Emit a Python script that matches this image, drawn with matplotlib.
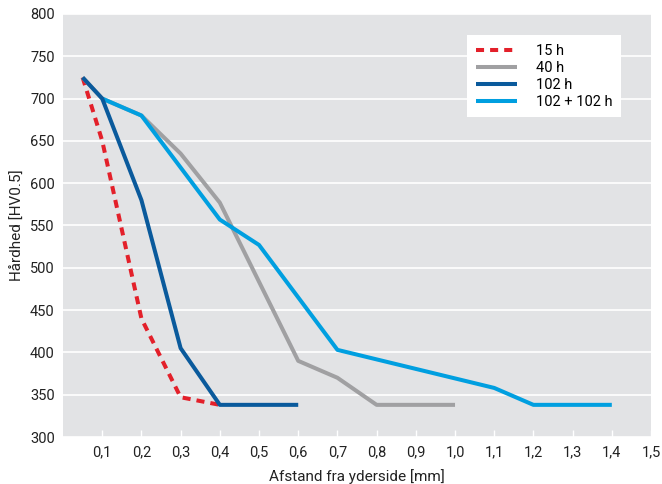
import matplotlib.pyplot as plt

# afstand fra yderside [mm] og hårdhed [HV0.5]
x_15 = [0.05, 0.1, 0.2, 0.3, 0.4]
hv_15 = [725, 650, 440, 347, 338]

x_40 = [0.05, 0.1, 0.2, 0.3, 0.4, 0.6, 0.7, 0.8, 1.0]
hv_40 = [725, 700, 680, 635, 577, 390, 370, 338, 338]

x_102 = [0.05, 0.1, 0.2, 0.3, 0.4, 0.6]
hv_102 = [725, 700, 580, 405, 338, 338]

x_204 = [0.1, 0.2, 0.4, 0.5, 0.7, 1.1, 1.2, 1.4]
hv_204 = [700, 680, 557, 527, 403, 358, 338, 338]

labels = ['15 h', '40 h', '102 h', '102 + 102 h']
xticks = [0.1, 0.2, 0.3, 0.4, 0.5, 0.6, 0.7, 0.8, 0.9, 1.0, 1.1, 1.2, 1.3, 1.4, 1.5]
yticks = [300, 350, 400, 450, 500, 550, 600, 650, 700, 750, 800]

plt.rcParams['font.family'] = ['Roboto', 'DejaVu Sans']

fig = plt.figure(figsize=(6.62, 4.84), dpi=100)
ax = fig.add_axes([0.0952, 0.0971, 0.8882, 0.874])
ax.set_facecolor('#e2e3e5')

l1, = ax.plot(x_15, hv_15, color='#e3202a', lw=2.9, dashes=(2, 1.5),
              dash_capstyle='butt', zorder=3)
l2, = ax.plot(x_40, hv_40, color='#a0a0a2', lw=2.9, solid_capstyle='butt', zorder=4)
l4, = ax.plot(x_204, hv_204, color='#009fe0', lw=2.9, solid_capstyle='butt', zorder=5)
l3, = ax.plot(x_102, hv_102, color='#0a5a9c', lw=2.9, solid_capstyle='butt', zorder=6)

ax.set_xlim(0, 1.5)
ax.set_ylim(300, 800)
ax.set_xticks(xticks)
ax.set_xticklabels([f'{t:.1f}'.replace('.', ',') for t in xticks])
ax.set_yticks(yticks)
ax.grid(axis='y', color='white', lw=1.2)
ax.set_axisbelow(True)
ax.tick_params(axis='x', direction='in', color='white', length=5, width=1,
               labelsize=10.5, pad=6, labelcolor='#222222')
ax.tick_params(axis='y', length=0, labelsize=10.5, pad=6, labelcolor='#222222')
for s in ax.spines.values():
    s.set_visible(False)

ax.set_xlabel('Afstand fra yderside [mm]', fontsize=11, color='#222222', labelpad=7)
ax.set_ylabel('Hårdhed [HV0.5]', fontsize=11, color='#222222', labelpad=4)

leg = ax.legend([l1, l2, l3, l4], labels, loc='upper left',
                bbox_to_anchor=(0.687, 0.95), borderaxespad=0, frameon=True,
                fancybox=False, framealpha=1, edgecolor='white', facecolor='white',
                fontsize=10.5, handlelength=2.8, handletextpad=1.3, labelspacing=0.2,
                borderpad=0.6)
leg.get_frame().set_linewidth(0)
for h in leg.get_lines():
    h.set_linewidth(2.9)

fig.savefig('out.png', dpi=100)
